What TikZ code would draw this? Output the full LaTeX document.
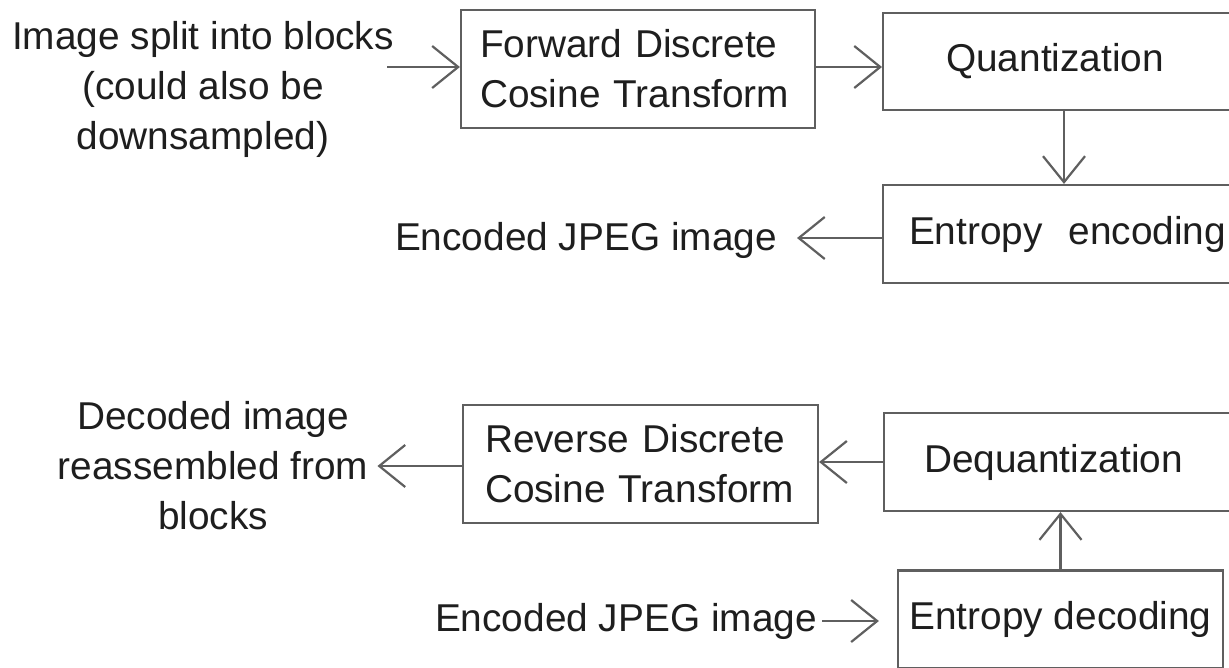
\documentclass[tikz,border=0pt]{standalone}
\usepackage{fontspec}
\setmainfont{Liberation Sans}
\usetikzlibrary{arrows.meta,calc}
\definecolor{linec}{RGB}{95,95,95}
\definecolor{textc}{RGB}{30,30,30}
\begin{document}
\begin{tikzpicture}[x=1pt,y=-1pt,
  every node/.style={font=\fontsize{38.8}{50}\selectfont, text=textc},
  box/.style={draw=linec, line width=2.2pt, minimum height=97pt, inner ysep=0pt},
  lbl/.style={inner sep=0pt, align=center},
  arr/.style={draw=linec, line width=2.2pt, -{Straight Barb[length=26pt,width=42pt]}}
]
\useasboundingbox[fill=white] (0,0) rectangle (1229,667);
% encoder
\node[lbl] (in1) at (203,89) {Image split into blocks\\(could also be\\downsampled)};
\node[box, minimum width=354pt, minimum height=118pt, text width=316pt, inner xsep=19pt, align=left] (fdct) at (638,69) {Forward Discrete\\Cosine Transform};
\node[box, anchor=west, text width=300pt, inner xsep=63pt, align=left] (quant) at (882,61.5) {Quantization};
\node[box, anchor=west, minimum height=98pt, text width=330pt, inner xsep=26pt, align=left] (enc) at (882,234) {Entropy~~encoding};
\node[lbl, anchor=east] (out1) at (777,240) {Encoded JPEG image};
% decoder
\node[lbl] (out2) at (213,466) {Decoded image\\reassembled from\\blocks};
\node[box, minimum width=355pt, minimum height=118pt, text width=311pt, inner xsep=22pt, align=left] (rdct) at (640.5,464) {Reverse Discrete\\Cosine Transform};
\node[box, anchor=west, minimum height=98pt, text width=320pt, inner xsep=40pt, align=left] (deq) at (883,462) {Dequantization};
\node[box, minimum width=325pt, minimum height=98pt] (dec) at (1060.5,619.5) {Entropy decoding};
\node[lbl, anchor=east] (in2) at (817,621) {Encoded JPEG image};
% connectors
\draw[arr] ([xshift=-7pt]in1.east |- 0,67) -- (fdct.west |- 0,67);
\draw[arr] (fdct.east |- 0,67) -- (quant.west |- 0,67);
\draw[arr] ([xshift=182pt]quant.south west) -- ([xshift=182pt]enc.north west);
\draw[arr] (enc.west |- 0,238) -- ([xshift=20pt]out1.east |- 0,238);
\draw[arr] (deq.west) -- (rdct.east |- deq.west);
\draw[arr] (rdct.west |- 0,466) -- ([xshift=9pt]out2.east |- 0,466);
\draw[arr] (dec.north) -- (dec.north |- deq.south);
\draw[arr] ([xshift=5pt]in2.east |- 0,621) -- ([xshift=-18pt]dec.west |- 0,621);
\end{tikzpicture}
\end{document}
